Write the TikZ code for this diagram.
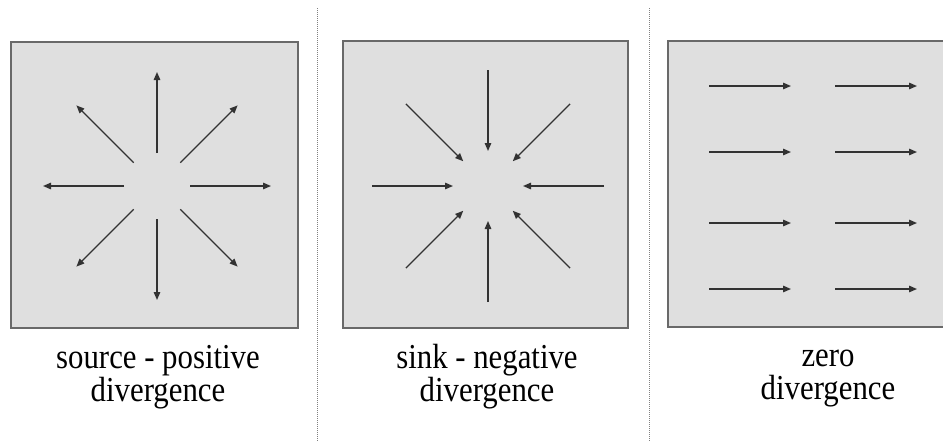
\documentclass[tikz,border=0pt]{standalone}
\usepackage{fontspec}
\usepackage{tikz}
\usetikzlibrary{arrows.meta,positioning,calc}
\newfontfamily\captionfont[FakeStretch=0.88]{Liberation Serif}
\definecolor{panelfill}{RGB}{223,223,223}
\definecolor{paneldraw}{RGB}{105,105,105}
\definecolor{vecdark}{RGB}{50,50,50}

\begin{document}
\begin{tikzpicture}[
    x=1pt, y=-1pt,
    panel/.style={rectangle, draw=paneldraw, fill=panelfill, line width=1.6pt, inner sep=0pt},
    vec/.style={-{Triangle[length=8pt, width=6.5pt]}, line width=1.4pt, draw=vecdark},
    caption/.style={align=center, font=\captionfont\fontsize{35}{33}\selectfont, inner sep=0pt},
    divider/.style={line width=1pt, draw=gray, dash pattern=on 1pt off 1pt}
]
    \useasboundingbox (0,0) rectangle (943,442);

    % Panels
    \node[panel, minimum width=287pt, minimum height=286pt] (srcbox) at (154.5,185) {};
    \node[panel, minimum width=285pt, minimum height=287pt] (sinkbox) at (485.5,184.5) {};
    \node[panel, minimum width=282pt, minimum height=286pt] (zerobox) at (809,184) {};

    % Field centres
    \coordinate (srcmid) at (157,186);
    \coordinate (sinkmid) at (488,186);

    % Source: arrows pointing outwards
    \foreach \ang in {0,45,...,315} {
        \coordinate (srcin\ang) at ($(srcmid)+(\ang:33)$);
        \coordinate (srcout\ang) at ($(srcmid)+(\ang:114)$);
        \draw[vec] (srcin\ang) -- (srcout\ang);
    }

    % Sink: arrows pointing inwards
    \foreach \ang in {0,45,...,315} {
        \coordinate (sinkin\ang) at ($(sinkmid)+(\ang:35)$);
        \coordinate (sinkout\ang) at ($(sinkmid)+(\ang:116)$);
        \draw[vec] (sinkout\ang) -- (sinkin\ang);
    }

    % Zero: uniform field
    \foreach \row/\yy in {1/86, 2/152, 3/223, 4/289} {
        \coordinate (za\row) at (709,\yy);
        \coordinate (zb\row) at (791,\yy);
        \coordinate (zc\row) at (835,\yy);
        \coordinate (zd\row) at (917,\yy);
        \draw[vec] (za\row) -- (zb\row);
        \draw[vec] (zc\row) -- (zd\row);
    }

    % Dividers
    \draw[divider] (317,8) -- (317,442);
    \draw[divider] (649,8) -- (649,442);

    % Captions
    \node[caption] (srclabel) at (158,377) {source - positive\\divergence};
    \node[caption] (sinklabel) at (487,377) {sink - negative\\divergence};
    \node[caption] (zerolabel) at (828,379) {zero\\divergence};
\end{tikzpicture}
\end{document}
